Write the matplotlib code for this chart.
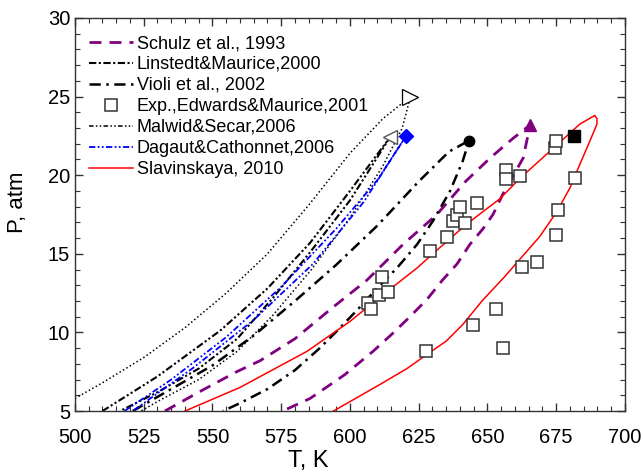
import matplotlib
matplotlib.use('Agg')
import matplotlib.pyplot as plt
from matplotlib.lines import Line2D
from matplotlib.ticker import MultipleLocator

plt.rcParams['font.family'] = ['Liberation Sans', 'DejaVu Sans']

# --- data (T in K, P in atm) ---
# Schulz et al., 1993
schulz_T = [532.7, 545, 558.8, 567.3, 580, 593.8, 606, 619.3, 631.6, 642, 651, 659, 665.5,
            663, 659.3, 655.6, 652, 648.4, 643.6, 638.9, 633.5, 628, 621.8, 615.3, 608.4, 598, 585.5, 575.5]
schulz_P = [5.0, 6.2, 7.5, 8.2, 9.6, 11.6, 13.3, 15.6, 17.5, 19.6, 21.1, 22.3, 23.2,
            21.1, 19.95, 18.8, 17.5, 16.6, 15.6, 14.35, 13.3, 12.1, 11.0, 9.9, 8.8, 7.3, 5.8, 5.0]

# Linstedt & Maurice, 2000
linstedt_T = [510, 530, 552.7, 570, 585.5, 600, 614.5,
              600, 585.5, 572, 559, 545, 530, 516.4]
linstedt_P = [5.0, 7.2, 10.1, 12.8, 15.7, 19.0, 22.4,
              18.4, 15.1, 12.2, 9.6, 7.7, 6.2, 5.0]

# Violi et al., 2002
violi_T = [521, 535, 550, 565, 580, 595, 610, 625, 636, 643.3,
           641, 636.4, 630.2, 624.4, 617.1, 609.8, 602.5, 595.3, 589, 580, 570, 560, 553.8]
violi_P = [5.0, 6.4, 7.9, 9.8, 12.0, 14.3, 16.8, 19.6, 21.5, 22.2,
           20.9, 19.0, 17.1, 15.6, 14.1, 12.8, 11.4, 10.1, 9.0, 7.6, 6.4, 5.5, 5.0]

# Exp., Edwards & Maurice, 2001
exp_T = [606.7, 607.6, 610.5, 613.9, 611.5, 627.6, 629.1, 635.2, 637.6, 638.9, 640.0, 641.8,
         646.1, 644.7, 653.0, 655.5, 656.6, 656.6, 661.8, 662.4, 668.1, 674.9, 675.8, 674.5,
         674.9, 681.8]
exp_P = [11.9, 11.5, 12.4, 12.6, 13.5, 8.8, 15.15, 16.1, 17.1, 17.45, 17.95, 16.95,
         18.2, 10.5, 11.5, 9.0, 20.35, 19.75, 19.95, 14.15, 14.5, 16.2, 17.8, 21.7,
         22.2, 19.84]

# Malwid & Secar, 2006
malwid_T = [500, 510, 525, 540, 555, 570, 585, 600, 612, 622,
            619, 612, 600, 586, 572, 559, 545, 531, 524]
malwid_P = [5.8, 6.8, 8.4, 10.3, 12.5, 15.0, 18.1, 21.4, 23.6, 25.0,
            23.0, 20.6, 17.3, 14.0, 11.1, 8.8, 7.0, 5.7, 5.0]

# Dagaut & Cathonnet, 2006
dagaut_T = [518, 535, 555, 575, 595, 610, 620.4,
            605, 586.5, 565, 543, 521]
dagaut_P = [5.0, 7.0, 9.7, 12.9, 16.6, 19.7, 22.5,
            18.3, 14.35, 10.8, 7.75, 5.0]

# Slavinskaya, 2010
slav_T = [540, 560, 584.4, 600, 612, 624.4, 632.7, 642.5, 654.5, 661.8, 673.8, 683.6, 689, 689.8, 689.8,
          687.3, 683.6, 680, 675.3, 669, 663, 656, 648, 641, 635, 628, 620.7, 611, 602, 594]
slav_P = [5.0, 6.5, 8.8, 10.7, 12.4, 14.1, 15.4, 16.9, 18.5, 19.8, 21.7, 23.25, 23.8, 23.6, 23.25,
          22.2, 20.7, 19.2, 17.7, 16.1, 14.9, 13.5, 12.0, 10.5, 9.45, 8.6, 7.7, 6.7, 5.8, 5.0]

# end points of the limit curves
tip_schulz = (665.5, 23.2)
tip_linstedt = (614.5, 22.4)
tip_violi = (643.3, 22.2)
tip_malwid = (622.0, 25.0)
tip_dagaut = (620.4, 22.5)
crit_point = (681.5, 22.5)

purple = '#800080'

fig = plt.figure(figsize=(6.43, 4.73), dpi=100)
ax = fig.add_axes([0.1166, 0.131, 0.8554, 0.831])

ax.plot(schulz_T, schulz_P, color=purple, lw=2, dashes=(4.3, 2.9))
ax.plot(linstedt_T, linstedt_P, color='black', lw=1.5, dashes=(3.5, 1.2, 1, 1.2, 1, 1.2))
ax.plot(violi_T, violi_P, color='black', lw=1.8, dashes=(4.5, 2.2, 1, 2.2))
ax.plot(malwid_T, malwid_P, color='black', lw=1.1, dashes=(1, 1.6))
ax.plot(dagaut_T, dagaut_P, color='blue', lw=1.3, dashes=(3.5, 1.3, 1, 1.3, 1, 1.3))
ax.plot(slav_T, slav_P, color='red', lw=1.1)
ax.plot(exp_T, exp_P, ls='none', marker='s', ms=8, mfc='white', mec='#333333', mew=1.1)

ax.plot(*tip_schulz, marker='^', ms=9, color=purple)
ax.plot(*tip_linstedt, marker='<', ms=10, mfc='white', mec='#555555', mew=1)
ax.plot(*tip_violi, marker='o', ms=7.5, color='black')
ax.plot(*tip_malwid, marker='>', ms=11, mfc='white', mec='black', mew=0.9)
ax.plot(*tip_dagaut, marker='D', ms=7, color='blue')
ax.plot(*crit_point, marker='s', ms=8, color='black')

ax.set_xlim(500, 700)
ax.set_ylim(5, 30)
ax.xaxis.set_major_locator(MultipleLocator(25))
ax.xaxis.set_minor_locator(MultipleLocator(5))
ax.yaxis.set_major_locator(MultipleLocator(5))
ax.yaxis.set_minor_locator(MultipleLocator(1))
ax.tick_params(which='both', direction='in', top=True, right=True, labelsize=14.5, color='#333333')
ax.tick_params(which='major', length=6, width=1)
ax.tick_params(which='minor', length=3.5, width=0.8)
ax.tick_params(axis='x', which='major', pad=12)
for s in ax.spines.values():
    s.set_color('#333333')
    s.set_linewidth(1)

ax.set_xlabel('T, K', fontsize=17)
ax.xaxis.set_label_coords(0.425, -0.1)
ax.set_ylabel('P, atm', fontsize=16)
ax.yaxis.set_label_coords(-0.085, 0.53)

handles = [
    Line2D([], [], color=purple, lw=2, dashes=(4.3, 2.9)),
    Line2D([], [], color='black', lw=1.5, dashes=(3.5, 1.2, 1, 1.2)),
    Line2D([], [], color='black', lw=1.8, dashes=(4.5, 2.2, 1, 2.2)),
    Line2D([], [], ls='none', marker='s', ms=8, mfc='white', mec='#333333', mew=1.1),
    Line2D([], [], color='black', lw=1.1, dashes=(3, 1.5, 1, 1.5, 1, 1.5)),
    Line2D([], [], color='blue', lw=1.3, dashes=(3.5, 1.3, 1, 1.3, 1, 1.3)),
    Line2D([], [], color='red', lw=1.1),
]
labels = ['Schulz et al., 1993', 'Linstedt&Maurice,2000', 'Violi et al., 2002',
          'Exp.,Edwards&Maurice,2001', 'Malwid&Secar,2006', 'Dagaut&Cathonnet,2006',
          'Slavinskaya, 2010']
ax.legend(handles, labels, loc='upper left', bbox_to_anchor=(0.012, 0.975), frameon=False,
          fontsize=13, handlelength=2.45, handletextpad=0.2, labelspacing=0.22,
          borderaxespad=0.2, borderpad=0.2)

fig.savefig('out.png', dpi=100)
